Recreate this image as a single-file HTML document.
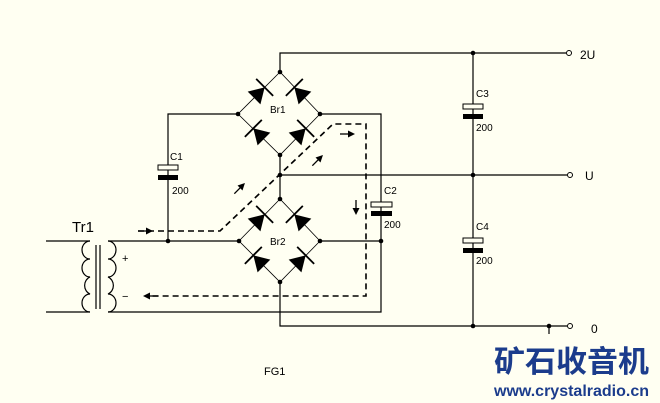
<!DOCTYPE html>
<html><head><meta charset="utf-8"><style>
html,body{margin:0;padding:0;background:#fffff2;}
svg{display:block}
text{font-family:"Liberation Sans",sans-serif;fill:#000}
</style></head><body>
<svg width="660" height="403" viewBox="0 0 660 403" xmlns="http://www.w3.org/2000/svg">
<rect width="660" height="403" fill="#fffff2"/>
<g stroke="#000" stroke-width="1.2" fill="none">
<!-- top rail -->
<polyline points="280,72 280,53 566,53"/>
<!-- Br1 left to C1 -->
<polyline points="238,114 168,114 168,241"/>
<!-- Br1 right to C2 -->
<polyline points="320,114 381,114 381,312 108,312"/>
<!-- middle -->
<polyline points="280,155 280,199"/>
<line x1="280" y1="175" x2="567" y2="175"/>
<!-- Br2 bottom -->
<polyline points="280,282 280,326 567,326"/>
<line x1="549" y1="326" x2="549" y2="334"/>
<!-- transformer line -->
<line x1="108" y1="241" x2="239" y2="241"/>
<line x1="320" y1="241" x2="381" y2="241"/>
<!-- right column -->
<line x1="473" y1="53" x2="473" y2="326"/>
<!-- bridges -->
<polygon points="280,72 238,114 280,155 320,114" stroke-width="0.8"/>
<polygon points="280,199 239,241 280,282 320,241" stroke-width="0.8"/>
<!-- transformer -->
<line x1="46" y1="241" x2="90" y2="241"/>
<line x1="46" y1="312" x2="90" y2="312"/>
<path d="M90,241 a8,9 0 0 0 0,18 a8,9 0 0 0 0,18 a8,9 0 0 0 0,17 a8,9 0 0 0 0,18"/>
<path d="M108,241 a8,9 0 0 1 0,18 a8,9 0 0 1 0,18 a8,9 0 0 1 0,17 a8,9 0 0 1 0,18"/>
<line x1="96" y1="245" x2="96" y2="309"/>
<line x1="100" y1="245" x2="100" y2="309"/>
<!-- dashed path -->
<polyline points="138,231 220,231 333,124 366,124 366,296 145,296" stroke-dasharray="6,4" stroke-width="1.6"/>
</g>
<!-- capacitor plates -->
<g stroke="#000" stroke-width="1" fill="#fffff2">
<rect x="158" y="165" width="20" height="5"/>
<rect x="371" y="202" width="21" height="5"/>
<rect x="463" y="104" width="20" height="5"/>
<rect x="463" y="238" width="20" height="5"/>
</g>
<g fill="#000">
<rect x="158" y="175" width="20" height="5"/>
<rect x="371" y="211" width="21" height="5"/>
<rect x="463" y="114" width="20" height="5"/>
<rect x="463" y="248" width="20" height="5"/>
<!-- nodes -->
<circle cx="280" cy="72" r="2.3"/><circle cx="238" cy="114" r="2.3"/><circle cx="320" cy="114" r="2.3"/><circle cx="280" cy="155" r="2.3"/>
<circle cx="280" cy="175" r="2.3"/>
<circle cx="280" cy="199" r="2.3"/><circle cx="239" cy="241" r="2.3"/><circle cx="320" cy="241" r="2.3"/><circle cx="280" cy="282" r="2.3"/>
<circle cx="168" cy="241" r="2.3"/><circle cx="381" cy="241" r="2.3"/>
<circle cx="473" cy="53" r="2.3"/><circle cx="473" cy="175" r="2.3"/><circle cx="473" cy="326" r="2.3"/><circle cx="549" cy="326" r="2.3"/>
</g>
<!-- terminals -->
<g stroke="#000" stroke-width="1" fill="#fffff2">
<circle cx="569" cy="53" r="2.5"/><circle cx="570" cy="175" r="2.5"/><circle cx="570" cy="326" r="2.5"/>
</g>
<!-- diodes -->
<defs>
<g id="d"><polygon points="-7,-9 -7,9 8,0" fill="#000"/><line x1="8" y1="-12" x2="8" y2="12" stroke="#000" stroke-width="1.8"/></g>
<g id="ar"><line x1="-8" y1="0" x2="2" y2="0" stroke="#000" stroke-width="1.3"/><polygon points="0,-3.5 0,3.5 7,0" fill="#000"/></g>
</defs>
<use href="#d" transform="translate(259,93) rotate(-45)"/>
<use href="#d" transform="translate(300,93) rotate(-135)"/>
<use href="#d" transform="translate(259,134) rotate(-135)"/>
<use href="#d" transform="translate(300,134) rotate(-45)"/>
<use href="#d" transform="translate(259,220) rotate(-45)"/>
<use href="#d" transform="translate(300,220) rotate(-135)"/>
<use href="#d" transform="translate(259,261) rotate(-135)"/>
<use href="#d" transform="translate(300,261) rotate(-45)"/>
<!-- arrows -->
<use href="#ar" transform="translate(146,231)"/>
<use href="#ar" transform="translate(240,188) rotate(-45)"/>
<use href="#ar" transform="translate(318,160) rotate(-45)"/>
<use href="#ar" transform="translate(348,134)"/>
<use href="#ar" transform="translate(356,208) rotate(90)"/>
<use href="#ar" transform="translate(150,296) rotate(180)"/>
<!-- labels -->
<g font-size="10">
<text x="270" y="113">Br1</text>
<text x="270" y="245">Br2</text>
<text x="170" y="160">C1</text>
<text x="172" y="194">200</text>
<text x="384" y="194">C2</text>
<text x="384" y="228">200</text>
<text x="476" y="97">C3</text>
<text x="476" y="131">200</text>
<text x="476" y="230">C4</text>
<text x="476" y="264">200</text>
<text x="264" y="375" font-size="11">FG1</text>
</g>
<text x="72" y="232" font-size="15">Tr1</text>
<text x="122" y="262" font-size="11">+</text>
<text x="122" y="300" font-size="11">−</text>
<text x="580" y="59" font-size="12">2U</text>
<text x="585" y="180" font-size="12">U</text>
<text x="591" y="333" font-size="12">0</text>
<text x="494" y="372" font-size="30" font-weight="bold" style="fill:#1b3c8c;font-family:'Noto Sans CJK SC',sans-serif" textLength="155" lengthAdjust="spacingAndGlyphs">矿石收音机</text>
<text x="494" y="396" font-size="16" font-weight="bold" style="fill:#1b3c8c" textLength="155" lengthAdjust="spacingAndGlyphs">www.crystalradio.cn</text>
</svg>
</body></html>
